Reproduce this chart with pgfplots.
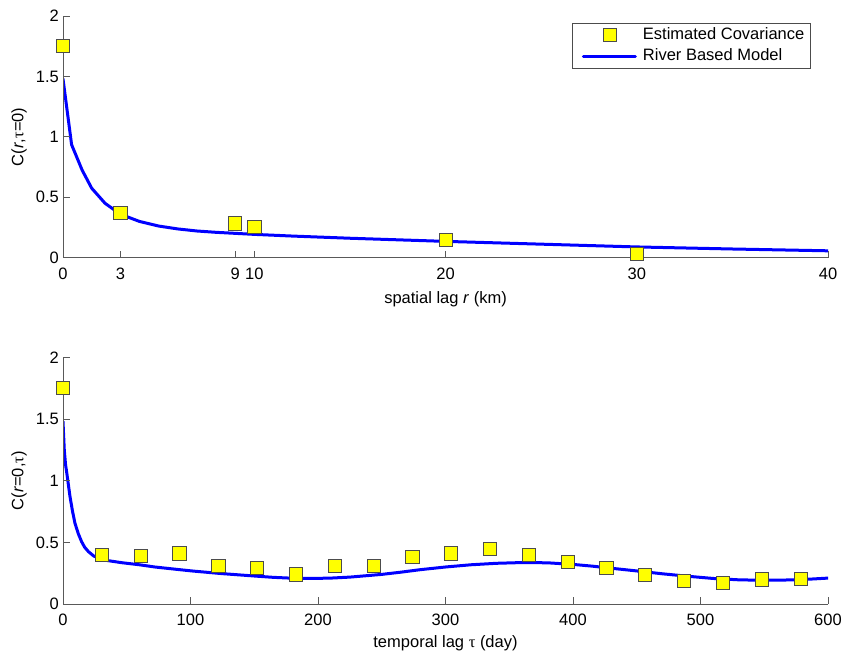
\documentclass[border=0pt]{standalone}
\usepackage{fontspec}
\setmainfont{Liberation Sans}
\newfontfamily\symfont{Liberation Serif}
\usepackage{pgfplots}
\pgfplotsset{compat=1.18}

\definecolor{markyellow}{rgb}{1,1,0}
\definecolor{modelblue}{rgb}{0,0,1}

\pgfplotsset{
  covpanel/.style={
    scale only axis,
    width=765bp,
    xmin=0,
    ymin=0, ymax=2,
    ytick={0,0.5,1,1.5,2},
    axis lines*=left,
    tick align=inside,
    major tick length=7bp,
    axis line style={draw=black!65, line width=0.9bp},
    every tick/.style={draw=black!65, line width=0.9bp},
    /pgf/number format/assume math mode=true,
    xticklabel style={inner sep=0pt, anchor=north, yshift=-10bp},
    yticklabel style={inner sep=0pt, anchor=east, xshift=-4bp},
    ylabel style={at={(axis description cs:-0.0575,0.5)}, anchor=center, inner sep=0pt},
    xlabel style={at={(axis description cs:0.5,0)}, anchor=north, inner sep=0pt},
    axis on top,
  },
  covmarks/.style={only marks, mark=square*, mark size=6.6bp,
    mark options={fill=markyellow, draw=black!70, line width=0.7bp}},
  covmodel/.style={modelblue, line width=3bp, line join=round, line cap=round},
}

% spatial covariance at zero time lag
\pgfplotstableread{
r     C
0     1.75
3     0.37
9     0.285
10    0.255
20    0.15
30    0.03
}\spatialest

\pgfplotstableread{
r     C
0     1.48
0.45  0.935
1     0.725
1.5   0.575
2.2   0.45
3     0.36
4     0.30
5     0.262
6     0.238
7     0.221
8     0.210
10    0.193
12    0.179
15    0.161
20    0.135
25    0.112
30    0.089
35    0.072
40    0.057
}\spatialmodel

% temporal covariance at zero spatial lag
\pgfplotstableread{
t      C
0      1.75
30.4   0.40
60.9   0.39
91.3   0.41
121.8  0.31
152.2  0.29
182.6  0.24
213.1  0.31
243.5  0.31
274.0  0.38
304.4  0.41
334.8  0.445
365.3  0.40
395.7  0.34
426.2  0.29
456.6  0.235
487.0  0.19
517.5  0.17
547.9  0.20
578.4  0.205
}\temporalest

\pgfplotstableread{
t     C
0     1.48
1     1.25
2     1.13
3     1.06
5.5   0.87
7.5   0.75
9.4   0.654
12    0.57
14.6  0.505
17    0.46
20    0.424
24    0.39
28    0.37
35    0.352
46    0.335
60    0.318
72    0.30
90    0.28
102   0.267
125   0.246
150   0.227
165   0.216
180   0.209
195   0.207
210   0.210
225   0.218
250   0.240
265   0.258
280   0.278
300   0.300
320   0.318
340   0.330
360   0.336
380   0.334
400   0.321
415   0.307
430   0.290
450   0.268
470   0.245
490   0.225
510   0.207
530   0.196
550   0.192
570   0.195
585   0.201
600   0.210
}\temporalmodel

\begin{document}%
\fontsize{16.5bp}{19.8bp}\selectfont%
\begin{tikzpicture}
\path[use as bounding box] (0,0) rectangle (844bp,652bp);

\begin{axis}[
  covpanel,
  at={(63bp,394.3bp)}, anchor=south west,
  height=241.7bp,
  xmax=40,
  xtick={0,3,9,10,20,30,40},
  xlabel={spatial lag \textit{r} (km)},
  xlabel style={yshift=-34bp},
  ylabel={C(\textit{r},{\symfont τ}=0)},
  legend style={at={(0.9774,0.9723)}, anchor=north east,
    draw=black!70, line width=0.7bp, fill=white,
    inner xsep=6bp, inner ysep=4.5bp, row sep=7bp,
    nodes={inner sep=0pt}},
  legend cell align=left,
]
\addplot[covmarks,
  legend image code/.code={\path (0bp,0bp); \draw[mark repeat=2,mark phase=2] plot coordinates {(4bp,0bp) (30bp,0bp) (56bp,0bp)};}]
  table[x=r, y=C] {\spatialest};
\addlegendentry{\hspace{6bp}Estimated Covariance}
\addplot[covmodel,
  legend image code/.code={\path (0bp,0bp); \draw (4bp,0bp) -- (56bp,0bp);}]
  table[x=r, y=C] {\spatialmodel};
\addlegendentry{\hspace{6bp}River Based Model}
\end{axis}

\begin{axis}[
  covpanel,
  at={(63bp,48bp)}, anchor=south west,
  height=246.7bp,
  xmax=600,
  xtick={0,100,200,300,400,500,600},
  xlabel={temporal lag {\symfont τ} (day)},
  xlabel style={yshift=-31.5bp},
  ylabel={C(\textit{r}=0,{\symfont τ})},
]
\addplot[covmarks] table[x=t, y=C] {\temporalest};
\addplot[covmodel] table[x=t, y=C] {\temporalmodel};
\end{axis}
\end{tikzpicture}%
\end{document}
